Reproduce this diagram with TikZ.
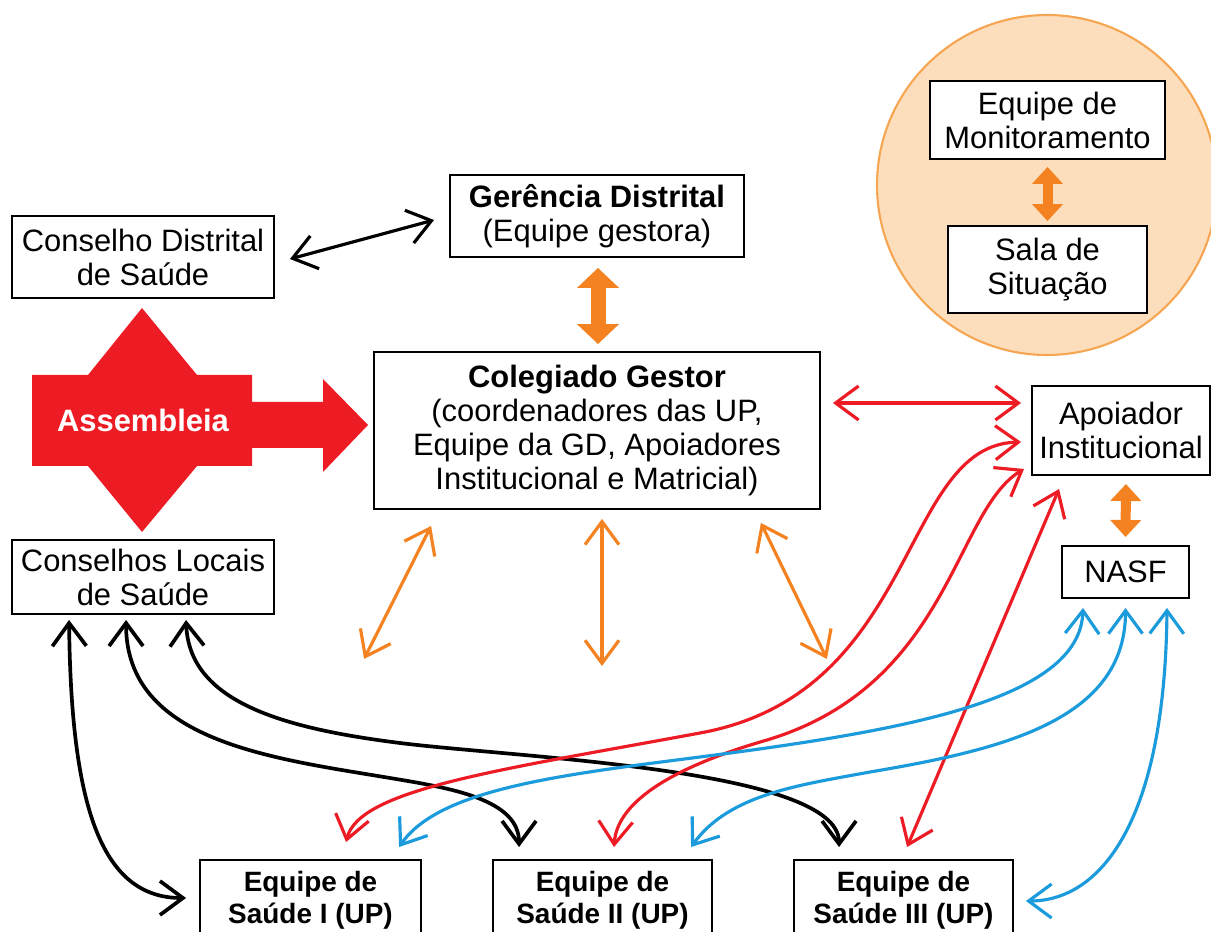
\documentclass[tikz,border=0pt]{standalone}
\usepackage{fontspec}
\setmainfont{Liberation Sans}
\usepackage{tikz}
\usetikzlibrary{arrows.meta,calc}
\definecolor{asRed}{RGB}{237,28,36}
\definecolor{asOrange}{RGB}{245,130,32}
\definecolor{asBlue}{RGB}{27,155,220}
\definecolor{asPeach}{RGB}{252,221,188}
\definecolor{asRim}{RGB}{246,166,82}

\begin{document}
\begin{tikzpicture}[x=0.02cm,y=-0.02cm,
		>={Straight Barb[length=0.46cm,width=0.68cm]},
		plainBox/.style={draw, line width=1.1pt, fill=white, align=center, inner sep=0pt, font=\fontsize{17.6pt}{19.4pt}\selectfont},
		boldBox/.style={plainBox, font=\fontsize{15.9pt}{18.2pt}\selectfont\bfseries},
		thinArrow/.style={line width=1.8pt, <->},
		fatArrow/.style={asOrange, line width=0.3cm, {Triangle[length=0.4cm,width=0.82cm]}-{Triangle[length=0.4cm,width=0.82cm]}},
		smallFatArrow/.style={asOrange, line width=0.2cm, {Triangle[length=0.34cm,width=0.6cm]}-{Triangle[length=0.34cm,width=0.6cm]}}]
		\useasboundingbox (0,0) rectangle (1211,932);
		\clip (0,0) rectangle (1211,932);

		\begin{scope}
			\draw[asRim, line width=1.2pt, fill=asPeach] (1047,185) circle [radius=170];
			\node[plainBox, minimum width=4.7cm, minimum height=1.56cm] (Monit) at (1047.5,120) {Equipe de\\Monitoramento};
			\node[plainBox, minimum width=3.98cm, minimum height=1.74cm] (Sala) at (1047.5,269.5) {Sala de\\Situação};
			\draw[smallFatArrow] ($(Monit.south)+(0,7)$) -- ($(Sala.north)+(0,-4)$);
		\end{scope}

		\fill[asRed] (142,308) -- (197,375) -- (252,375) -- (252,402) -- (323,402) -- (323,379) -- (368,425) -- (323,472)
				-- (323,448) -- (252,448) -- (252,466) -- (197,466) -- (142,532) -- (88,466) -- (32,466) -- (32,375) -- (88,375) -- cycle;
		\node[text=white, font=\fontsize{17.6pt}{19.4pt}\selectfont\bfseries] (Assembleia) at (143,420) {Assembleia};

		\node[plainBox, minimum width=5.24cm, minimum height=1.64cm] (ConsDist) at (143,257) {Conselho Distrital\\de Saúde};
		\node[plainBox, minimum width=5.88cm, minimum height=1.64cm] (Gerencia) at (597,216) {\textbf{Gerência Distrital}\\(Equipe gestora)};
		\node[plainBox, minimum width=8.92cm, minimum height=3.14cm] (Colegiado) at (597,430.5)
			{\textbf{Colegiado Gestor}\\(coordenadores das UP,\\Equipe da GD, Apoiadores\\Institucional e Matricial)};
		\node[plainBox, minimum width=3.56cm, minimum height=1.78cm] (Apoiador) at (1121,430.5) {Apoiador\\Institucional};
		\node[plainBox, minimum width=2.54cm, minimum height=1.04cm] (NASF) at (1125.5,572) {NASF};
		\node[plainBox, minimum width=5.24cm, minimum height=1.48cm] (ConsLocais) at (143,577) {Conselhos Locais\\de Saúde};
		\node[boldBox, minimum width=4.42cm, minimum height=1.6cm] (EqI) at (310.5,900) {Equipe de\\Saúde I (UP)};
		\node[boldBox, minimum width=4.38cm, minimum height=1.6cm] (EqII) at (602.5,900) {Equipe de\\Saúde II (UP)};
		\node[boldBox, minimum width=4.38cm, minimum height=1.6cm] (EqIII) at (903.5,900) {Equipe de\\Saúde III (UP)};

		\draw[thinArrow] ($(ConsDist.east)+(15,2)$) -- ($(Gerencia.west)+(-15,4)$);
		\draw[fatArrow] ($(Gerencia.south)+(1,10)$) -- ($(Colegiado.north)+(1,-7)$);
		\draw[smallFatArrow] ($(Apoiador.south)+(5,8)$) -- ($(NASF.north)+(0,-8)$);

		\draw[thinArrow, asOrange] ($(Colegiado.south west)+(58,16)$) -- ($(Colegiado.south west)+(-9,149)$);
		\draw[thinArrow, asOrange] ($(Colegiado.south)+(5,9)$) -- ($(Colegiado.south)+(5,156)$);
		\draw[thinArrow, asOrange] ($(Colegiado.south east)+(-60,13)$) -- ($(Colegiado.south east)+(6,149)$);

		\draw[thinArrow, line width=2.1pt] ($(ConsLocais.south west)+(58,5)$) .. controls +(2,181) and +(-87,0) .. ($(EqI.west)+(-13,-2)$);
		\draw[thinArrow, line width=2.1pt] ($(ConsLocais.south west)+(115,5)$) .. controls +(0,121) and +(-120,-20) .. (390,778)
				.. controls +(60,10) and +(0,-48) .. ($(EqII.north west)+(27,-12)$);
		\draw[thinArrow, line width=2.1pt] ($(ConsLocais.south west)+(175,5)$) .. controls +(3,81) and +(-120,-15) .. (400,743)
				.. controls +(120,15) and +(0,-78) .. ($(EqIII.north west)+(46,-12)$);

		\draw[thinArrow, asRed] ($(Colegiado.east)+(12,-27.5)$) -- ($(Apoiador.west)+(-10,-27.5)$);
		\draw[thinArrow, asRed] ($(EqI.north west)+(147,-17)$) .. controls +(13,-53) and +(-200,37) .. (700,733)
				.. controls +(220,-40) and +(-122,3) .. ($(Apoiador.west)+(-10,11.5)$);
		\draw[thinArrow, asRed] ($(EqII.north west)+(122,-12)$) .. controls +(3,-48) and +(-87,25) .. (767,740)
				.. controls +(183,-55) and +(-70,42) .. ($(Apoiador.south west)+(-7,-7)$);
		\draw[thinArrow, asRed] ($(EqIII.north west)+(114,-12)$) -- ($(Apoiador.south west)+(28,13)$);

		\draw[thinArrow, asBlue] ($(EqI.north west)+(200,-12)$) .. controls +(40,-58) and +(-140,18) .. (700,757)
				.. controls +(200,-26) and +(-3,93) .. ($(NASF.south)+(-42.5,9)$);
		\draw[thinArrow, asBlue] ($(EqII.north west)+(199,-12)$) .. controls +(38,-53) and +(-70,13) .. (870,772)
				.. controls +(130,-22) and +(0,113) .. ($(NASF.south)+(0,9)$);
		\draw[thinArrow, asBlue] ($(EqIII.east)+(12,1)$) .. controls +(75,0) and +(-2,213) .. ($(NASF.south)+(41.5,9)$);
\end{tikzpicture}
\end{document}
